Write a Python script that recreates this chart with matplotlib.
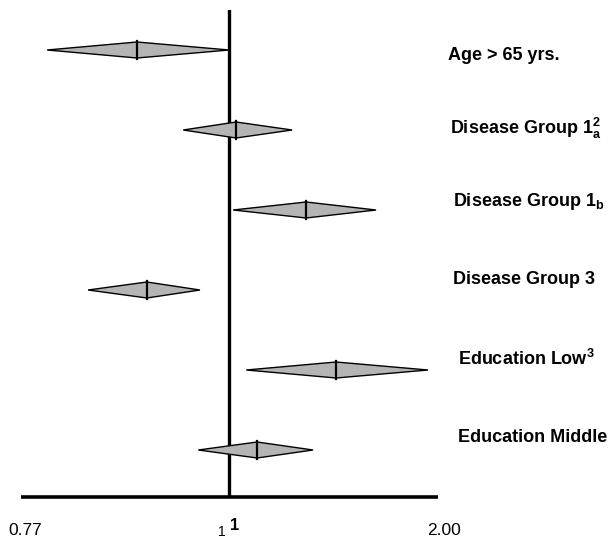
import matplotlib
matplotlib.use("Agg")
import matplotlib.pyplot as plt
import numpy as np
from matplotlib.patches import Polygon
import matplotlib.transforms as mtransforms

plt.rcParams['font.family'] = ['Liberation Sans', 'DejaVu Sans']
plt.rcParams['mathtext.fontset'] = 'custom'
plt.rcParams['mathtext.rm'] = 'Liberation Sans'
plt.rcParams['mathtext.bf'] = 'Liberation Sans:bold'

# odds ratios with lower / upper limits
labels = ["Age > 65 yrs.",
          r"Disease Group 1$_\mathbf{a}^\mathbf{2}$",
          r"Disease Group 1$_\mathbf{b}$",
          "Disease Group 3",
          r"Education Low$^\mathbf{3}$",
          "Education Middle"]
est = [0.891, 1.023, 1.291, 0.902, 1.426, 1.097]
lower = [0.796, 0.944, 1.013, 0.838, 1.058, 0.962]
upper = [1.000, 1.232, 1.628, 0.964, 1.935, 1.321]
tick_vals = [0.77, 1, 2.0]
tick_labels = ["0.77", "1", "2.00"]

# label placement tweaks (pixels): x of left edge, shift down
label_x = [448, 450, 453, 453, 458, 458]
label_dy = [5, -2, -9, -11, -11, -12]


# axis: left half 0.77..1 and right half 1..2 each take half the width (log inside)
def fwd(x):
    lx = np.log(np.clip(np.asarray(x, float), 1e-9, None))
    return np.where(lx < 0, lx / np.log(1 / 0.77), lx / np.log(2))


def inv(t):
    t = np.asarray(t, float)
    return np.where(t < 0, np.exp(t * np.log(1 / 0.77)), 2.0 ** t)


W, H = 610, 543
fig = plt.figure(figsize=(W / 100, H / 100), dpi=100)
x0, x1, ytop, ybot = 20.5, 438, 10, 497
ax = fig.add_axes([x0 / W, 1 - ybot / H, (x1 - x0) / W, (ybot - ytop) / H])
ax.set_xscale('function', functions=(fwd, inv))
ax.set_xlim(0.77, 2.0)
ax.set_ylim((ybot - 50) / 80, -0.5)

for s in ['top', 'right', 'left']:
    ax.spines[s].set_visible(False)
ax.spines['bottom'].set_linewidth(2.6)
ax.spines['bottom'].set_capstyle('butt')
ax.axvline(1, color='black', lw=2.4, zorder=1)

h = 0.1
for i in range(len(est)):
    d = Polygon([(lower[i], i), (est[i], i - h), (upper[i], i), (est[i], i + h)],
                closed=True, facecolor='#b4b4b4', edgecolor='black', lw=1.0, zorder=3)
    ax.add_patch(d)
    ax.plot([est[i], est[i]], [i - 0.118, i + 0.118], color='black', lw=1.6, zorder=4)
    ax.annotate(labels[i], xy=(0, i), xycoords=('figure pixels', 'data'),
                xytext=(label_x[i], -label_dy[i]), textcoords='offset pixels',
                ha='left', va='center', fontsize=13, fontweight='bold',
                annotation_clip=False)

ax.set_yticks([])
ax.set_xticks(tick_vals)
ax.set_xticks([], minor=True)
ax.set_xticklabels(tick_labels, fontsize=12.5)
ax.tick_params(axis='x', length=0, pad=19)
tl = ax.get_xticklabels()
shifts = [5, -7, 6]
for lab, sx in zip(tl, shifts):
    lab.set_transform(lab.get_transform() +
                      mtransforms.ScaledTranslation(sx / 100, 0, fig.dpi_scale_trans))
tl[1].set_fontsize(10)
tl[1].set_transform(tl[1].get_transform() +
                    mtransforms.ScaledTranslation(0, -2 / 100, fig.dpi_scale_trans))
ax.annotate("1", xy=(1, 0), xycoords=('data', 'axes fraction'),
            xytext=(5, -28), textcoords='offset pixels', ha='center', va='center',
            fontsize=12, fontweight='bold', annotation_clip=False)

fig.savefig("out.png", dpi=100)
